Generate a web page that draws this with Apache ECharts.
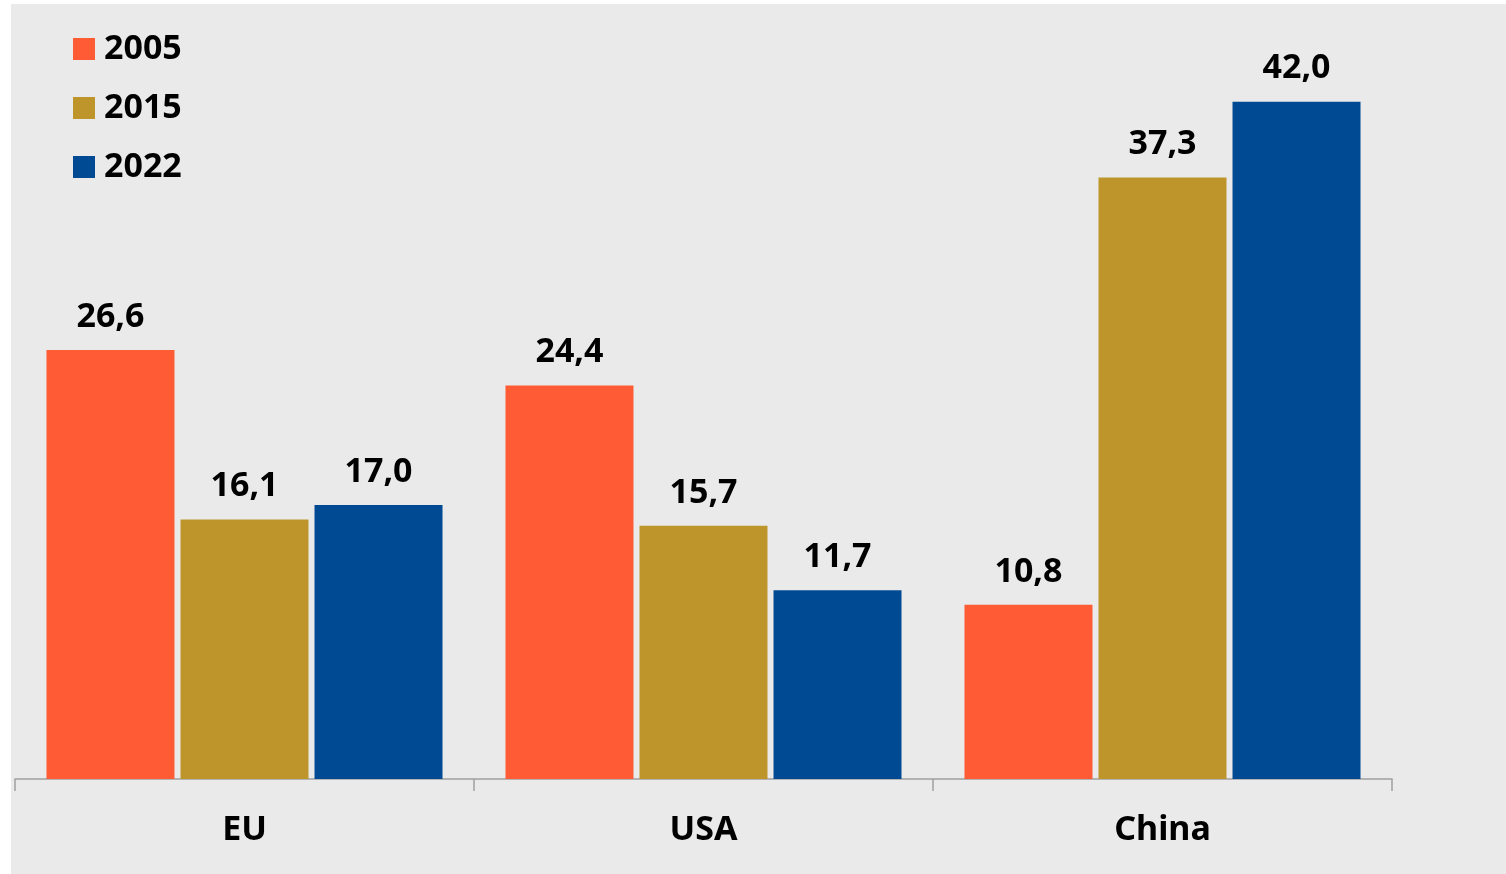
<!DOCTYPE html>
<html><head><meta charset="utf-8">
<script src="https://cdn.jsdelivr.net/npm/echarts@6/dist/echarts.min.js"></script>
<style>html,body{margin:0;padding:0;background:#fff}#c{width:1506px;height:874px}</style>
</head><body><div id="c"></div>
<script>
var categories = ['EU', 'USA', 'China'];
var seriesNames = ['2005', '2015', '2022'];
var v2005 = [26.6, 24.4, 10.8];
var v2015 = [16.1, 15.7, 37.3];
var v2022 = [17.0, 11.7, 42.0];
var colors = ['#FF5B35', '#BD952B', '#004A93'];
var font = 'Noto Sans';
var chart = echarts.init(document.getElementById('c'));
function mk(name, data, color) {
  return {
    name: name, type: 'bar', data: data, barWidth: 128, barGap: '4.7%',
    itemStyle: { color: color },
    label: { show: true, position: 'top', distance: 16, color: '#000', fontFamily: font, fontWeight: 'bold', fontSize: 34,
      formatter: function (p) { return p.value.toFixed(1).replace('.', ','); } }
  };
}
chart.setOption({
  backgroundColor: '#fff',
  graphic: [{ type: 'rect', z: -10, shape: { x: 11, y: 4, width: 1495, height: 870 }, style: { fill: '#EAEAEA' } }],
  grid: { left: 15, right: 114, top: 5, bottom: 95 },
  legend: {
    left: 73, top: 32, padding: 0, orient: 'vertical', itemWidth: 22, itemHeight: 22, itemGap: 25,
    icon: 'rect', data: seriesNames,
    textStyle: { fontFamily: font, fontWeight: 'bold', fontSize: 34, color: '#000', padding: [0, 0, 0, 4] }
  },
  xAxis: {
    type: 'category', data: categories,
    axisLine: { lineStyle: { color: '#A0A0A0', width: 1.5 } },
    axisTick: { show: true, length: 12, lineStyle: { color: '#A0A0A0', width: 1.5 } },
    axisLabel: { fontFamily: font, fontWeight: 'bold', fontSize: 34, color: '#000', margin: 34 }
  },
  yAxis: { type: 'value', min: 0, max: 48, show: false, splitLine: { show: false } },
  series: [mk(seriesNames[0], v2005, colors[0]), mk(seriesNames[1], v2015, colors[1]), mk(seriesNames[2], v2022, colors[2])]
});
</script></body></html>
